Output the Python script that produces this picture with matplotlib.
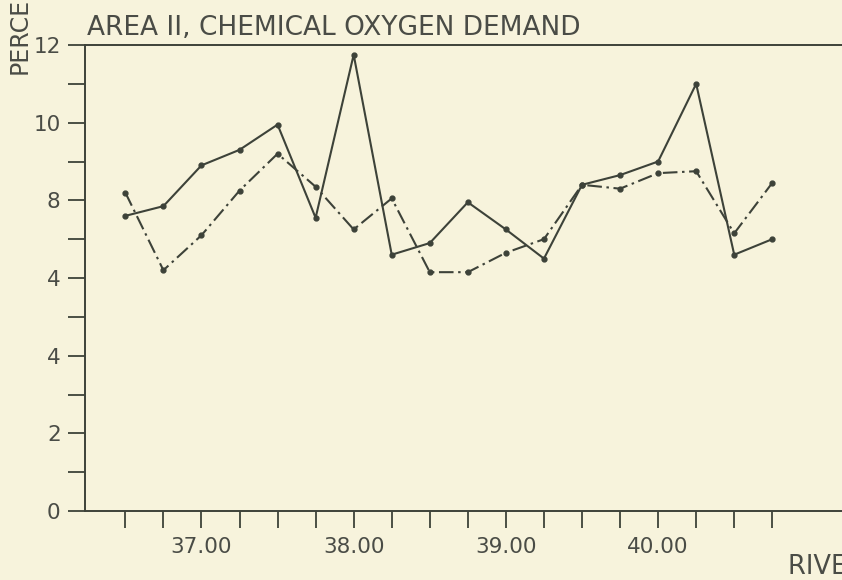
import matplotlib
matplotlib.use("Agg")
import matplotlib.pyplot as plt
from matplotlib.ticker import FixedLocator, FixedFormatter

# river mile stations, every quarter mile
river_mile = [36.50, 36.75, 37.00, 37.25, 37.50, 37.75, 38.00, 38.25, 38.50,
              38.75, 39.00, 39.25, 39.50, 39.75, 40.00, 40.25, 40.50, 40.75]

# solid line series
cod_solid = [7.6, 7.85, 8.9, 9.3, 9.95, 7.55, 11.75, 6.6, 6.9,
             7.95, 7.25, 6.5, 8.4, 8.65, 9.0, 11.0, 6.6, 7.0]

# dash-dot series
cod_dashdot = [8.2, 6.2, 7.1, 8.25, 9.2, 8.35, 7.25, 8.05, 6.15,
               6.15, 6.65, 7.0, 8.4, 8.3, 8.7, 8.75, 7.15, 8.45]

# axis labels as printed (the 6 is printed as a 4 on the original)
y_ticks = [0, 2, 4, 6, 8, 10, 12]
y_labels = ["0", "2", "4", "4", "8", "10", "12"]
x_ticks = river_mile
x_labels = ["37.00" if m == 37.0 else "38.00" if m == 38.0 else
            "39.00" if m == 39.0 else "40.00" if m == 40.0 else "" for m in river_mile]

paper = "#f7f3dc"
ink = "#3d4239"
text_ink = "#4a4c46"

W, H = 842, 580
fig = plt.figure(figsize=(W / 100, H / 100), dpi=100, facecolor=paper)
ax = fig.add_axes([85 / W, 69 / H, (W - 85) / W, (511 - 45) / H])
ax.set_facecolor(paper)

ax.plot(river_mile, cod_solid, color=ink, lw=1.5, marker="o", ms=3.5,
        solid_joinstyle="miter")
ax.plot(river_mile, cod_dashdot, color=ink, lw=1.5, marker="o", ms=3.5,
        linestyle=(0, (7, 2.2, 1.2, 2.2)))

ax.set_xlim(36.235, 41.208)
ax.set_ylim(0, 12)

ax.xaxis.set_major_locator(FixedLocator(x_ticks))
ax.xaxis.set_major_formatter(FixedFormatter(x_labels))
ax.yaxis.set_major_locator(FixedLocator(y_ticks))
ax.yaxis.set_major_formatter(FixedFormatter(y_labels))
ax.yaxis.set_minor_locator(FixedLocator([1, 3, 5, 7, 9, 11]))

ax.tick_params(axis="both", which="both", direction="out", length=12.5,
               width=1.3, color=ink, labelcolor=text_ink, labelsize=15.5)
ax.tick_params(axis="x", pad=6.5)
ax.tick_params(axis="y", pad=5)

for side in ["left", "bottom", "top"]:
    ax.spines[side].set_color(ink)
    ax.spines[side].set_linewidth(1.4)
ax.spines["right"].set_visible(False)

fig.text(87 / W, 1 - 35 / H, "AREA II, CHEMICAL OXYGEN DEMAND", fontsize=19,
         color=text_ink, va="baseline", ha="left")
fig.text(20 / W, 1 - 74 / H, "PERCENT", fontsize=17, color=text_ink,
         rotation=90, va="bottom", ha="center")
fig.text(788 / W, 1 - 574 / H, "RIVER MILE", fontsize=18.5, color=text_ink,
         va="baseline", ha="left")

fig.savefig("out.png", dpi=100, facecolor=paper)
